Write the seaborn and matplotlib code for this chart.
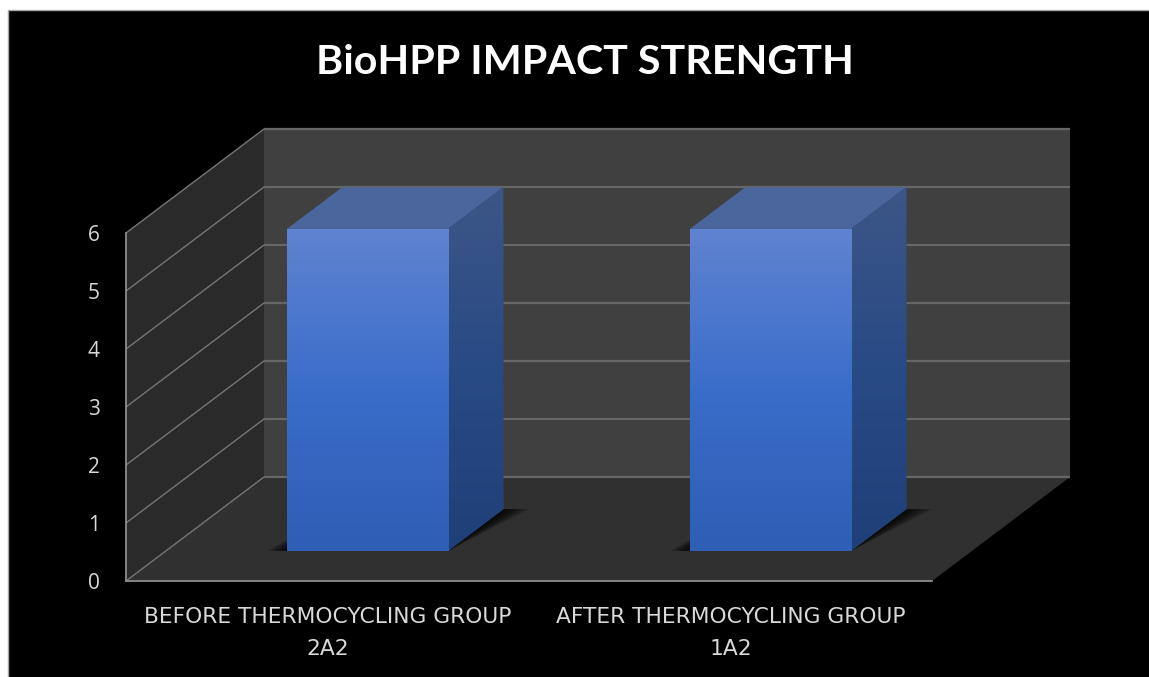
import matplotlib
matplotlib.use("Agg")
import matplotlib.pyplot as plt
from matplotlib.colors import LinearSegmentedColormap
from matplotlib.patches import Polygon, Rectangle
import numpy as np
import pandas as pd
import seaborn as sns

# Chart content
title = "BioHPP IMPACT STRENGTH"
categories = ["BEFORE THERMOCYCLING GROUP\n2A2", "AFTER THERMOCYCLING GROUP\n1A2"]
impact_strength = [5.55, 5.55]
y_ticks = [0, 1, 2, 3, 4, 5, 6]

# Oblique projection: full chart depth expressed in data units
DEPTH_X = 138 / 403
DEPTH_Y = 104 / 58
BAR_FRONT, BAR_BACK = 0.29, 0.69
BAR_WIDTH = 0.4

WALL_BACK = "#404040"
WALL_SIDE = "#2a2a2a"
FLOOR = "#303030"
GRID = "#666666"
SIDE_GRID = "#767676"
AXIS = "#8c8c8c"
TEXT = "#d9d9d9"


def project(x, y, depth):
    """Map a point on the plane at the given depth (0 front, 1 back) to axes data."""
    return x + DEPTH_X * depth, y + DEPTH_Y * depth


def shifted(points, depths):
    return [project(x, y, d) for (x, y), d in zip(points, depths)]


sns.set_theme(style="white")
plt.rcParams["font.family"] = ["Lato", "DejaVu Sans"]

fig = plt.figure(figsize=(11.49, 6.77), dpi=100, facecolor="white")
W, H = 1149, 677
fig.add_artist(Rectangle((8 / W, -0.02), 1.02, 1.02 - 10 / H, transform=fig.transFigure,
                         facecolor="black", edgecolor="#a6a6a6", linewidth=1.0, zorder=-1))

ax = fig.add_axes([126 / W, 1 - 581 / H, 806 / W, 348 / H])
ax.patch.set_visible(False)

frame = pd.DataFrame({"group": categories, "strength": impact_strength})
sns.barplot(data=frame, x="group", y="strength", width=BAR_WIDTH, ax=ax,
            color="#3a6cc8", saturation=1, errorbar=None, zorder=5,
            edgecolor="none", linewidth=0)
x0, x1 = -0.5, 1.5
y0, y1 = 0, 6
ax.set_xlim(x0, x1)
ax.set_ylim(y0, y1)

# Walls and floor of the chart box
ax.add_patch(Polygon(shifted([(x0, y0), (x0, y1), (x1, y1), (x1, y0)], [1, 1, 1, 1]),
                     facecolor=WALL_BACK, edgecolor="none", clip_on=False, zorder=1))
ax.add_patch(Polygon(shifted([(x0, y0), (x0, y1), (x0, y1), (x0, y0)], [0, 0, 1, 1]),
                     facecolor=WALL_SIDE, edgecolor="none", clip_on=False, zorder=1))
ax.add_patch(Polygon(shifted([(x0, y0), (x1, y0), (x1, y0), (x0, y0)], [0, 0, 1, 1]),
                     facecolor=FLOOR, edgecolor="none", clip_on=False, zorder=1))

# Gridlines wrap from the side wall onto the back wall
for tick in y_ticks:
    bx, by = project(x0, tick, 1)
    ex, _ = project(x1, tick, 1)
    ax.plot([bx, ex], [by, by], color=GRID, lw=1.6, clip_on=False, zorder=2,
            solid_capstyle="butt")
    ax.plot([x0, bx], [tick, by], color=SIDE_GRID, lw=1.0, clip_on=False, zorder=2)

front_map = LinearSegmentedColormap.from_list("front", ["#6083d1", "#3a6dca", "#2e5eb5"])
side_map = LinearSegmentedColormap.from_list("side", ["#3d5687", "#284a85", "#1f3f78"])

for bar in [p for p in ax.patches if isinstance(p, Rectangle)]:
    left, w, h = bar.get_x(), bar.get_width(), bar.get_height()
    fx, fy = project(left, 0, BAR_FRONT)
    fr = fx + w
    bx, by = project(left, 0, BAR_BACK)
    br = bx + w

    # Soft shadow falling right and left of the base, no further forward than the bar
    for spread in np.arange(1, 11) / 10:
        ax.add_patch(Polygon([(fx - 0.05 * spread, fy), (fr, fy),
                              (br + 0.065 * spread, by), (bx, by)],
                             facecolor="black", edgecolor="none", alpha=0.13,
                             clip_on=False, zorder=3))

    # Roof and right side face
    ax.add_patch(Polygon([(fx, fy + h), (fr, fy + h), (br, by + h), (bx, by + h)],
                         facecolor="#4b659d", edgecolor="none", clip_on=False, zorder=4))
    side = Polygon([(fr, fy), (fr, fy + h), (br, by + h), (br, by)],
                   facecolor="#284a85", edgecolor="none", clip_on=False, zorder=4)
    ax.add_patch(side)
    side_img = ax.imshow(np.linspace(0, 1, 256)[:, None], extent=(fr, br, fy, by + h),
                         origin="upper", cmap=side_map, aspect="auto", zorder=4.5)
    side_img.set_clip_path(side)
    side_img.set_clip_box(fig.bbox)

    # Front face: the seaborn bar itself, moved to its depth in the box
    bar.set_x(fx)
    bar.set_y(fy)
    bar.set_clip_on(False)
    ax.imshow(np.linspace(0, 1, 256)[:, None], extent=(fx, fr, fy, fy + h),
              origin="upper", cmap=front_map, aspect="auto", zorder=6, clip_on=False)

ax.set_xlim(x0, x1)
ax.set_ylim(y0, y1)

# Axes furniture
sns.despine(ax=ax, top=True, right=True)
for name in ("left", "bottom"):
    ax.spines[name].set_color(AXIS)
    ax.spines[name].set_linewidth(1.3)
    ax.spines[name].set_zorder(7)
ax.set_xlabel("")
ax.set_ylabel("")
ax.set_yticks(y_ticks)
ax.set_yticklabels([str(t) for t in y_ticks])
ax.tick_params(axis="y", length=0, pad=19, labelsize=15, labelcolor=TEXT)
ax.tick_params(axis="x", length=0, pad=19, labelsize=15.7, labelcolor=TEXT)
for label in ax.get_yticklabels():
    label.set_family(["Open Sans", "DejaVu Sans"])
for label in ax.get_xticklabels():
    label.set_family(["DejaVu Sans"])
    label.set_linespacing(1.75)
    label.set_verticalalignment("top")

fig.text(585 / W, 1 - 62 / H, title, color="white", fontsize=29.7, fontweight="bold",
         ha="center", va="center")

fig.savefig("out.png", dpi=100, facecolor="white")
